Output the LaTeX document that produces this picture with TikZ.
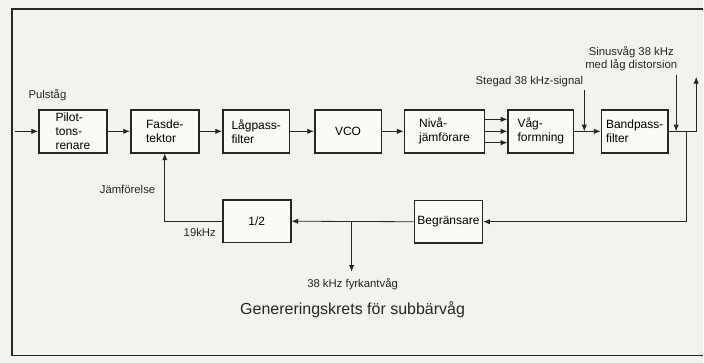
\documentclass[tikz,border=0pt]{standalone}
\usepackage{fontspec}
\setmainfont{Liberation Sans}
\usepackage{xcolor}
\usetikzlibrary{positioning,arrows.meta,calc}
\definecolor{paper}{HTML}{F4F2EC}
\definecolor{ink}{HTML}{262626}

\begin{document}
\begin{tikzpicture}[
  x=0.75pt,y=-0.75pt,
  font=\fontsize{8.5}{10}\selectfont,
  block/.style={draw=ink,line width=1.3pt,fill=white!60!paper,
                minimum height=32pt,minimum width=51pt,align=left,inner sep=2pt,
                font=\fontsize{9}{10.5}\selectfont},
  arr/.style={-{Latex[length=5pt,width=4pt]},draw=ink,line width=0.6pt},
  wire/.style={draw=ink,line width=0.6pt},
  lbl/.style={text=ink,inner sep=1pt},
]
% paper and frame (right side cut off)
\fill[paper] (0,0) rectangle (704,363);
\draw[ink,line width=1.3pt] (704,9) -- (12,9) -- (12,356) -- (704,356);

% TOP: signal chain
\node[block] (pilot) at (73,131.5)  {Pilot-\\tons-\\renare};
\node[block] (fas)   at (165,131.5) {Fasde-\\tektor};
\node[block,minimum width=50pt] (lp)   at (256.5,131.5) {Lågpass-\\filter};
\node[block,minimum width=50pt] (vco)  at (348.5,131.5) {VCO};
\node[block,minimum width=60pt] (niva) at (445,131.5)   {Nivå-\\jämförare};
\node[block,minimum width=49pt] (vag)  at (541.5,131.5) {Våg-\\formning};
\node[block,minimum width=50pt] (bp)   at (635.5,131.5) {Bandpass-\\filter};

% BOTTOM: return path
\node[block,align=center] (half) at (257,221.5) {1/2};
\node[block,align=center,inner sep=0pt] (beg) at (449,222) {Begränsare};

% free ends
\coordinate (in)   at (15,131.5);
\coordinate (steg) at (585,90);
\coordinate (sin)  at (677,75);
\coordinate (out)  at (697,77);
\coordinate (fb)   at (687,222);
\coordinate (sq)   at (352,272);

% chain arrows
\draw[arr] (in) -- (pilot.west);
\draw[arr] (pilot.east) -- (fas.west);
\draw[arr] (fas.east) -- (lp.west);
\draw[arr] (lp.east) -- (vco.west);
\draw[arr] (vco.east) -- (niva.west);
\foreach \dy in {9pt,0pt,-8.5pt}
  \draw[arr] ([yshift=\dy]niva.east) -- ([yshift=\dy]vag.west);
\draw[arr] (vag.east) -- (bp.west);
\draw[arr] (steg) -- (steg |- bp.west);
\draw[arr] (bp.east) -| (out);
\draw[arr] (sin) -- (sin |- bp.east);

% return path: bandpass -> limiter -> 1/2 -> phase detector
\draw[arr] (fb |- bp.east) -- (fb) -- (beg.east);
\draw[arr] (beg.west) -- (half.east);
\draw[arr] (sq |- beg.west) -- (sq);
\draw[arr] (half.west) -| (fas.south);

% labels
\node[lbl,anchor=west] (pul) at (27,95) {Pulståg};
\node[lbl] (stegl) at (530,82) {Stegad 38 kHz-signal};
\node[lbl,align=center] (sinl) at (632,59) {Sinusvåg 38 kHz\\med låg distorsion};
\node[lbl,anchor=east] (jmf) at (157,190) {Jämförelse};
\node[lbl] (f19) at (200,233) {19kHz};
\node[lbl] (sql) at (353,284) {38 kHz fyrkantvåg};
\node[lbl,font=\fontsize{12}{14}\selectfont] (cap) at (353,310) {Genereringskrets för subbärvåg};
\end{tikzpicture}
\end{document}
